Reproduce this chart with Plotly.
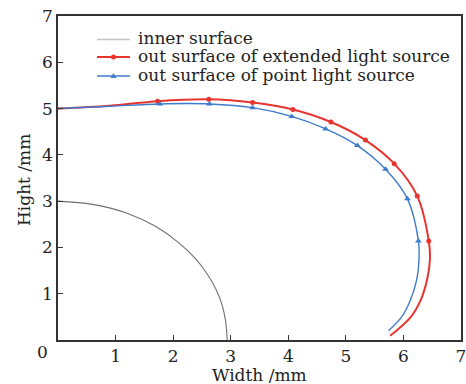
import plotly.graph_objects as go

# inner surface
inner_x = [0.0, 0.6, 1.2, 1.7, 2.1, 2.4, 2.6, 2.75, 2.85, 2.91, 2.94]
inner_y = [3.0, 2.93, 2.74, 2.45, 2.1, 1.74, 1.41, 1.08, 0.76, 0.42, 0.0]

# out surface of extended light source (curve + markers)
ext_x = [0.0, 0.9, 1.73, 2.62, 3.38, 4.08, 4.74, 5.34, 5.84, 6.24, 6.44, 6.46, 6.41, 6.30, 6.13, 5.77]
ext_y = [5.0, 5.06, 5.16, 5.20, 5.13, 4.98, 4.71, 4.32, 3.81, 3.11, 2.14, 1.73, 1.30, 0.86, 0.50, 0.09]
ext_mx = [1.73, 2.62, 3.38, 4.08, 4.74, 5.34, 5.84, 6.24, 6.44]
ext_my = [5.16, 5.20, 5.13, 4.98, 4.71, 4.32, 3.81, 3.11, 2.14]

# out surface of point light source (curve + markers)
pt_x = [0.0, 0.9, 1.77, 2.63, 3.38, 4.06, 4.65, 5.20, 5.69, 6.07, 6.26, 6.27, 6.23, 6.12, 5.97, 5.74]
pt_y = [5.0, 5.05, 5.10, 5.10, 5.02, 4.83, 4.56, 4.20, 3.69, 3.05, 2.14, 1.73, 1.30, 0.86, 0.50, 0.20]
pt_mx = [1.77, 2.63, 3.38, 4.06, 4.65, 5.20, 5.69, 6.07, 6.26]
pt_my = [5.10, 5.10, 5.02, 4.83, 4.56, 4.20, 3.69, 3.05, 2.14]

x_ticks = [1, 2, 3, 4, 5, 6, 7]
y_ticks = [1, 2, 3, 4, 5, 6, 7]

legend_names = ["inner surface", "out surface of extended light source", "out surface of point light source"]

RED = "#e8342f"
BLUE = "#3d7ccc"
GRAY = "#c4c4c4"
TXT = "#222222"
FONT = "DejaVu Serif"

fig = go.Figure()
fig.add_trace(go.Scatter(x=inner_x, y=inner_y, mode="lines", line=dict(color="#707070", width=1.1, shape="spline"),
                         name=legend_names[0]))
fig.add_trace(go.Scatter(x=ext_x, y=ext_y, mode="lines", line=dict(color=RED, width=2, shape="spline"),
                         name=legend_names[1]))
fig.add_trace(go.Scatter(x=ext_mx, y=ext_my, mode="markers",
                         marker=dict(symbol="circle", size=5, color=RED), name=legend_names[1]))
fig.add_trace(go.Scatter(x=pt_x, y=pt_y, mode="lines", line=dict(color=BLUE, width=1.4, shape="spline"),
                         name=legend_names[2]))
fig.add_trace(go.Scatter(x=pt_mx, y=pt_my, mode="markers",
                         marker=dict(symbol="triangle-up", size=6, color=BLUE), name=legend_names[2]))

# compact legend (drawn as text + sample lines, to match the tight row spacing)
row_y = [0.9275, 0.8735, 0.8150]
row_col = [GRAY, RED, BLUE]
row_w = [1.4, 2, 1.6]
for i, name in enumerate(legend_names):
    fig.add_shape(type="line", xref="paper", yref="paper", x0=0.0968, x1=0.1787, y0=row_y[i], y1=row_y[i],
                  line=dict(color=row_col[i], width=row_w[i]))
    fig.add_annotation(xref="paper", yref="paper", x=0.194, y=row_y[i] + 0.004, text=name, showarrow=False,
                       xanchor="left", yanchor="middle", font=dict(family=FONT, size=17, color=TXT))
fig.add_shape(type="circle", xref="paper", yref="paper", xsizemode="pixel", ysizemode="pixel",
              xanchor=0.1377, yanchor=row_y[1], x0=-2.5, x1=2.5, y0=-2.5, y1=2.5,
              fillcolor=RED, line=dict(width=0))
fig.add_shape(type="path", xref="paper", yref="paper", xsizemode="pixel", ysizemode="pixel",
              xanchor=0.1377, yanchor=row_y[2], path="M -3 -2 L 3 -2 L 0 3 Z",
              fillcolor=BLUE, line=dict(width=0))

fig.update_layout(
    width=466, height=384,
    margin=dict(l=58, r=5, t=16, b=44),
    paper_bgcolor="white", plot_bgcolor="white",
    font=dict(family=FONT, size=17, color=TXT),
    showlegend=False,
    xaxis=dict(range=[0, 7], tickvals=x_ticks, ticks="inside", ticklen=5, tickwidth=1.2, tickcolor="#333",
               showline=True, linecolor="#333", linewidth=1.5, mirror=True, showgrid=False, zeroline=False,
               automargin=False, ticklabeloverflow="allow", ticklabelstandoff=0,
               tickfont=dict(family=FONT, size=17, color=TXT)),
    yaxis=dict(range=[0, 7], tickvals=y_ticks, ticks="inside", ticklen=5, tickwidth=1.2, tickcolor="#333",
               showline=True, linecolor="#333", linewidth=1.5, mirror=True, showgrid=False, zeroline=False,
               automargin=False, ticklabeloverflow="allow",
               tickfont=dict(family=FONT, size=17, color=TXT)),
)
fig.add_annotation(xref="paper", yref="paper", x=-0.0397, y=-0.037, text="0", showarrow=False,
                   xanchor="center", yanchor="middle", font=dict(family=FONT, size=17, color=TXT))
fig.add_annotation(xref="paper", yref="paper", x=0.501, y=-0.108, text="Width /mm", showarrow=False,
                   xanchor="center", yanchor="middle", font=dict(family=FONT, size=17, color=TXT))
fig.add_annotation(xref="paper", yref="paper", x=-0.0844, y=0.4938, text="Hight /mm", showarrow=False,
                   textangle=-90, xanchor="center", yanchor="middle", font=dict(family=FONT, size=17, color=TXT))

fig.write_html("out.html", config={"displayModeBar": False},
               post_script="document.body.style.margin='0px';")
